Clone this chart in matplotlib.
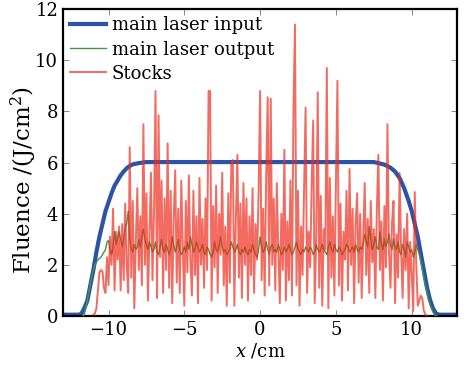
import numpy as np
import matplotlib
matplotlib.use("Agg")
import matplotlib.pyplot as plt

plt.rcParams['font.family'] = ['DejaVu Serif']
plt.rcParams['mathtext.fontset'] = 'dejavuserif'

# main laser input (smooth flat-top)
blue_x = [-13, -12, -11.8, -11.6, -11.4, -11.2, -11.0, -10.8, -10.6, -10.4, -10.2, -10.0,
          -9.8, -9.6, -9.4, -9.2, -9.0, -8.8, -8.6, -8.4, -8.0, -7.5,
          7.5, 7.8, 8.2, 8.6, 8.9, 9.2, 9.5, 9.8, 10.0, 10.2, 10.4, 10.6, 10.8,
          11.0, 11.2, 11.4, 11.6, 11.8, 13]
blue_y = [0.05, 0.05, 0.08, 0.3, 0.6, 1.2, 1.8, 2.5, 3.1, 3.6, 4.1, 4.45,
          4.8, 5.1, 5.3, 5.5, 5.65, 5.78, 5.87, 5.93, 5.98, 6.02,
          6.02, 5.98, 5.92, 5.8, 5.65, 5.4, 5.0, 4.5, 4.1, 3.6, 3.1, 2.45, 1.8,
          1.15, 0.65, 0.3, 0.1, 0.05, 0.05]

# main laser output, x from -11.7 to 11.7 in steps of 0.1
green_x = np.round(np.arange(-11.7, 11.75, 0.1), 2)
green_y = [0.0, 0.05, 0.3, 0.6, 0.95, 1.25, 1.55,
           1.8, 2.0, 2.1, 2.2, 2.25, 2.3, 2.4, 2.5, 2.6, 2.9,
           2.95, 2.6, 2.4, 2.7, 3.3, 2.8, 3.1, 3.3, 3.0, 2.7,
           3.0, 3.5, 3.6, 4.1, 3.0, 2.6, 2.5, 2.8, 2.6, 2.7,
           3.0, 2.7, 3.1, 3.4, 3.0, 2.8, 2.6, 2.9, 2.7, 2.5,
           2.6, 2.9, 2.5, 2.4, 2.7, 3.0, 2.6, 2.5, 2.8, 2.6,
           2.4, 2.6, 3.1, 2.8, 2.5, 2.7, 3.0, 2.6, 2.4, 2.5,
           2.7, 2.5, 2.9, 2.6, 3.1, 2.8, 2.5, 2.6, 2.9, 2.7,
           2.5, 2.6, 2.8, 2.5, 2.4, 2.7, 2.6, 2.4, 2.3, 2.5,
           2.9, 2.6, 2.5, 2.8, 3.1, 2.7, 2.5, 2.6, 2.4, 2.5,
           2.6, 2.9, 2.7, 2.5, 2.6, 2.8, 2.5, 2.4, 2.6, 2.5,
           2.7, 2.5, 2.4, 2.6, 2.5, 2.8, 2.6, 2.4, 2.3, 2.6,
           3.1, 2.7, 2.5, 2.6, 2.9, 2.6, 2.4, 2.7, 2.8, 2.5,
           2.6, 2.5, 2.8, 2.6, 2.4, 2.5, 2.7, 2.5, 2.6, 2.8,
           2.6, 2.4, 2.5, 2.7, 2.9, 2.6, 2.5, 2.4, 2.6, 2.5,
           2.7, 2.6, 2.5, 2.7, 2.6, 2.4, 2.5, 2.8, 2.6, 2.5,
           2.6, 2.8, 2.6, 2.5, 2.4, 2.7, 2.9, 2.6, 2.5, 2.8,
           2.6, 2.5, 2.7, 2.6, 2.4, 2.5, 2.6, 2.8, 2.7, 2.5,
           2.6, 2.7, 2.5, 2.8, 2.6, 2.5, 2.7, 2.6, 2.8, 3.2,
           2.9, 2.7, 3.5, 3.0, 2.6, 2.8, 3.1, 2.7, 2.6, 3.3,
           2.8, 2.6, 3.0, 2.7, 2.9, 3.2, 2.8, 2.6, 3.0, 2.7,
           2.6, 2.9, 2.5, 2.4, 2.8, 2.6, 2.3, 2.9, 2.7, 2.5,
           2.6, 2.3, 2.5, 2.8, 2.6, 2.4, 2.1, 1.8, 1.45, 1.15,
           0.9, 0.65, 0.45, 0.3, 0.15, 0.05, 0.0, 0.0]
green_y = green_y[:len(green_x)]

# Stocks, x from -11 to 11 in steps of 0.1
red_x = np.round(np.arange(-11.0, 11.05, 0.1), 2)
red_y = [0.05, 0.1, 0.3, 1.0, 1.7, 1.8, 1.75, 1.1, 0.9, 2.3,
         1.2, 3.1, 2.0, 4.2, 1.0, 3.3, 2.2, 3.5, 1.0, 3.6,
         1.4, 4.4, 2.0, 0.9, 6.6, 1.5, 4.5, 0.3, 2.9, 5.0,
         1.8, 3.9, 1.2, 7.5, 2.0, 4.8, 0.6, 3.2, 5.6, 1.4,
         4.0, 8.8, 0.7, 7.85, 2.3, 5.3, 0.9, 4.6, 1.8, 6.75,
         1.1, 4.9, 0.5, 3.8, 5.7, 1.3, 4.2, 0.9, 5.3, 2.6,
         0.4, 4.5, 1.7, 5.5, 2.2, 0.8, 4.9, 1.6, 3.9, 0.5,
         5.4, 2.0, 3.8, 1.1, 4.6, 1.8, 8.8, 8.8, 0.6, 4.3,
         1.9, 5.1, 0.9, 4.0, 2.4, 5.6, 1.2, 3.5, 0.4, 4.8,
         1.3, 5.97, 6.1, 0.4, 3.8, 6.3, 1.5, 4.4, 0.7, 5.2,
         2.0, 4.6, 0.6, 3.9, 1.6, 5.0, 0.9, 3.6, 2.2, 4.8,
         8.8, 1.4, 4.2, 0.8, 5.5, 8.55, 1.2, 8.5, 2.0, 4.6,
         1.0, 5.2, 2.6, 0.5, 4.0, 1.8, 6.5, 0.6, 3.7, 1.4,
         5.3, 0.8, 8.1, 11.4, 1.2, 4.9, 0.4, 3.5, 1.6, 5.0,
         8.15, 0.9, 3.3, 1.9, 5.1, 7.65, 0.5, 3.0, 8.75, 1.1,
         4.7, 0.4, 3.4, 2.6, 9.7, 0.3, 5.4, 1.5, 3.9, 0.8,
         5.2, 9.2, 1.2, 4.4, 0.6, 3.3, 2.2, 4.9, 1.0, 5.75,
         2.0, 4.2, 0.5, 3.6, 4.8, 1.3, 4.0, 0.7, 3.1, 5.2,
         1.6, 3.8, 0.9, 4.5, 2.1, 3.4, 0.7, 4.1, 6.3, 1.8,
         3.7, 0.6, 4.3, 1.9, 7.5, 2.5, 1.1, 3.6, 4.5, 0.5,
         3.2, 1.5, 5.6, 2.6, 0.7, 3.4, 1.8, 4.0, 0.3, 2.9,
         1.6, 0.2, 4.85, 2.0, 0.4, 0.6, 0.8, 0.7, 0.2, 0.05,
         0.02]

fig = plt.figure(figsize=(4.67, 3.67), dpi=100)
ax = fig.add_axes([0.135, 0.139, 0.844, 0.836])

ax.plot(blue_x, blue_y, color='#2b54a8', lw=3, label='main laser input', zorder=2)
ax.plot(green_x, green_y, color='#46944a', lw=1.0, label='main laser output', zorder=3)
ax.plot(red_x, red_y, color='#ee2c1c', lw=1.4, alpha=0.7, label='Stocks', zorder=4)

ax.set_xlim(-13, 13)
ax.set_ylim(0, 12)
ax.set_xticks([-10, -5, 0, 5, 10])
ax.set_yticks([0, 2, 4, 6, 8, 10, 12])
ax.tick_params(direction='in', top=True, right=True, length=4, width=0.6,
               color='#777777', labelsize=13)
for s in ax.spines.values():
    s.set_linewidth(1.6)

ax.set_xlabel('$x$ /cm', fontsize=13, labelpad=2)
ax.set_ylabel('Fluence /(J/cm$^2$)', fontsize=16.5)
ax.yaxis.set_label_coords(-0.06, 0.443)

ax.legend(loc='upper left', frameon=False, fontsize=13, handlelength=2.0,
          handletextpad=0.3, labelspacing=0.34, borderaxespad=0.3,
          borderpad=0.1)

fig.savefig('out.png', dpi=100)
